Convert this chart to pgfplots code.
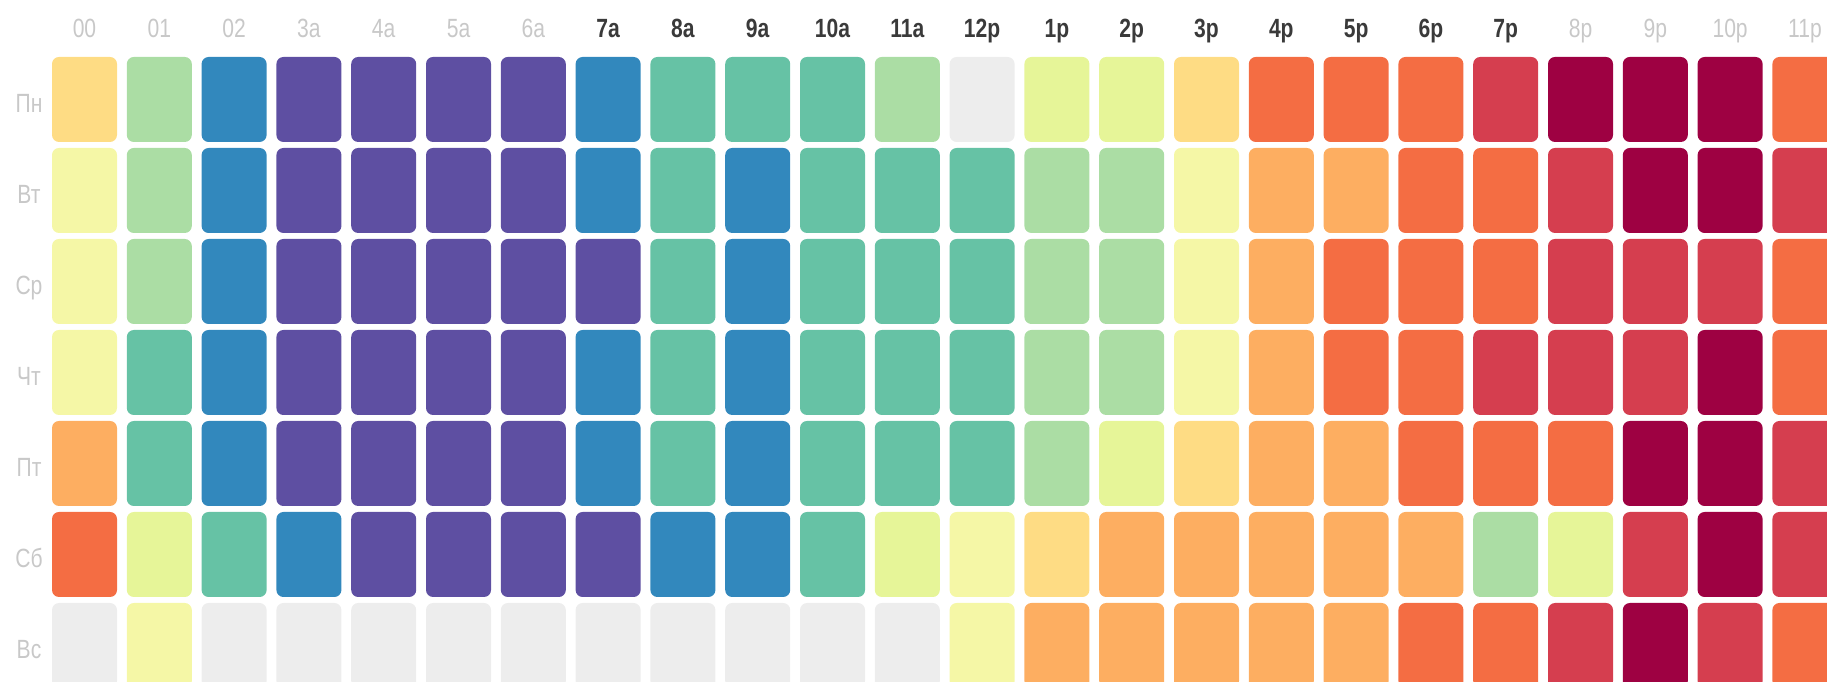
\documentclass[border=0pt]{standalone}
\usepackage{pgfplots}
\pgfplotsset{compat=1.18}
\usepackage{fontspec}
\setmainfont{Liberation Sans}[FakeStretch=0.8]
\definecolor{cA}{HTML}{9E0142}
\definecolor{cB}{HTML}{D53E4F}
\definecolor{cC}{HTML}{F46D43}
\definecolor{cD}{HTML}{FDAE61}
\definecolor{cE}{HTML}{FEDC84}
\definecolor{cF}{HTML}{F5F7A6}
\definecolor{cG}{HTML}{E6F598}
\definecolor{cH}{HTML}{ABDDA4}
\definecolor{cI}{HTML}{66C2A5}
\definecolor{cJ}{HTML}{3288BD}
\definecolor{cK}{HTML}{5E4FA2}
\definecolor{cN}{HTML}{EDEDED}
\definecolor{lgray}{HTML}{C8C8C8}
\definecolor{ldark}{HTML}{3A3A3A}
\pgfdeclareplotmark{cell}{%
  \pgfpathmoveto{\pgfpoint{0cm}{-0.425cm}}%
  \pgfpathlineto{\pgfpoint{0.255cm}{-0.425cm}}%
  \pgfpatharc{270}{360}{0.07cm}%
  \pgfpathlineto{\pgfpoint{0.325cm}{0.355cm}}%
  \pgfpatharc{0}{90}{0.07cm}%
  \pgfpathlineto{\pgfpoint{-0.255cm}{0.425cm}}%
  \pgfpatharc{90}{180}{0.07cm}%
  \pgfpathlineto{\pgfpoint{-0.325cm}{-0.355cm}}%
  \pgfpatharc{180}{270}{0.07cm}%
  \pgfpathclose
  \pgfusepathqfill}
\tikzset{lbl/.style={font=\fontsize{7.5pt}{9pt}\selectfont, inner sep=0pt, anchor=base},
  hg/.style={lbl, text=lgray},
  hd/.style={lbl, text=ldark, font=\fontsize{7.5pt}{9pt}\selectfont\bfseries}}
\begin{document}
\begin{tikzpicture}
\path[use as bounding box] (0,0) rectangle (18.27cm,6.82cm);
\begin{axis}[at={(0,0)}, anchor=south west, scale only axis,
  width=18.27cm, height=6.82cm,
  xmin=-1.1297, xmax=23.2955, ymin=-1.0934, ymax=6.4011, y dir=reverse,
  hide axis, clip=false]
\addplot[scatter, only marks, point meta=explicit symbolic,
  scatter/classes={A={mark=cell,cA}, B={mark=cell,cB}, C={mark=cell,cC},
    D={mark=cell,cD}, E={mark=cell,cE}, F={mark=cell,cF}, G={mark=cell,cG},
    H={mark=cell,cH}, I={mark=cell,cI}, J={mark=cell,cJ}, K={mark=cell,cK},
    N={mark=cell,cN}}]
table[row sep=\\, meta=c] {
x y c\\
0 0 E\\1 0 H\\2 0 J\\3 0 K\\4 0 K\\5 0 K\\6 0 K\\7 0 J\\8 0 I\\9 0 I\\10 0 I\\11 0 H\\12 0 N\\13 0 G\\14 0 G\\15 0 E\\16 0 C\\17 0 C\\18 0 C\\19 0 B\\20 0 A\\21 0 A\\22 0 A\\23 0 C\\
0 1 F\\1 1 H\\2 1 J\\3 1 K\\4 1 K\\5 1 K\\6 1 K\\7 1 J\\8 1 I\\9 1 J\\10 1 I\\11 1 I\\12 1 I\\13 1 H\\14 1 H\\15 1 F\\16 1 D\\17 1 D\\18 1 C\\19 1 C\\20 1 B\\21 1 A\\22 1 A\\23 1 B\\
0 2 F\\1 2 H\\2 2 J\\3 2 K\\4 2 K\\5 2 K\\6 2 K\\7 2 K\\8 2 I\\9 2 J\\10 2 I\\11 2 I\\12 2 I\\13 2 H\\14 2 H\\15 2 F\\16 2 D\\17 2 C\\18 2 C\\19 2 C\\20 2 B\\21 2 B\\22 2 B\\23 2 C\\
0 3 F\\1 3 I\\2 3 J\\3 3 K\\4 3 K\\5 3 K\\6 3 K\\7 3 J\\8 3 I\\9 3 J\\10 3 I\\11 3 I\\12 3 I\\13 3 H\\14 3 H\\15 3 F\\16 3 D\\17 3 C\\18 3 C\\19 3 B\\20 3 B\\21 3 B\\22 3 A\\23 3 C\\
0 4 D\\1 4 I\\2 4 J\\3 4 K\\4 4 K\\5 4 K\\6 4 K\\7 4 J\\8 4 I\\9 4 J\\10 4 I\\11 4 I\\12 4 I\\13 4 H\\14 4 G\\15 4 E\\16 4 D\\17 4 D\\18 4 C\\19 4 C\\20 4 C\\21 4 A\\22 4 A\\23 4 B\\
0 5 C\\1 5 G\\2 5 I\\3 5 J\\4 5 K\\5 5 K\\6 5 K\\7 5 K\\8 5 J\\9 5 J\\10 5 I\\11 5 G\\12 5 F\\13 5 E\\14 5 D\\15 5 D\\16 5 D\\17 5 D\\18 5 D\\19 5 H\\20 5 G\\21 5 B\\22 5 A\\23 5 B\\
0 6 N\\1 6 F\\2 6 N\\3 6 N\\4 6 N\\5 6 N\\6 6 N\\7 6 N\\8 6 N\\9 6 N\\10 6 N\\11 6 N\\12 6 F\\13 6 D\\14 6 D\\15 6 D\\16 6 D\\17 6 D\\18 6 C\\19 6 C\\20 6 B\\21 6 A\\22 6 B\\23 6 C\\
};
% column headers
\node[hg] at (axis cs:0,-0.676) {00};
\node[hg] at (axis cs:1,-0.676) {01};
\node[hg] at (axis cs:2,-0.676) {02};
\node[hg] at (axis cs:3,-0.676) {3a};
\node[hg] at (axis cs:4,-0.676) {4a};
\node[hg] at (axis cs:5,-0.676) {5a};
\node[hg] at (axis cs:6,-0.676) {6a};
\node[hd] at (axis cs:7,-0.676) {7a};
\node[hd] at (axis cs:8,-0.676) {8a};
\node[hd] at (axis cs:9,-0.676) {9a};
\node[hd] at (axis cs:10,-0.676) {10a};
\node[hd] at (axis cs:11,-0.676) {11a};
\node[hd] at (axis cs:12,-0.676) {12p};
\node[hd] at (axis cs:13,-0.676) {1p};
\node[hd] at (axis cs:14,-0.676) {2p};
\node[hd] at (axis cs:15,-0.676) {3p};
\node[hd] at (axis cs:16,-0.676) {4p};
\node[hd] at (axis cs:17,-0.676) {5p};
\node[hd] at (axis cs:18,-0.676) {6p};
\node[hd] at (axis cs:19,-0.676) {7p};
\node[hg] at (axis cs:20,-0.676) {8p};
\node[hg] at (axis cs:21,-0.676) {9p};
\node[hg] at (axis cs:22,-0.676) {10p};
\node[hg] at (axis cs:23,-0.676) {11p};
% row labels
\node[hg] at (axis cs:-0.742,0.143) {Пн};
\node[hg] at (axis cs:-0.742,1.143) {Вт};
\node[hg] at (axis cs:-0.742,2.143) {Ср};
\node[hg] at (axis cs:-0.742,3.143) {Чт};
\node[hg] at (axis cs:-0.742,4.143) {Пт};
\node[hg] at (axis cs:-0.742,5.143) {Сб};
\node[hg] at (axis cs:-0.742,6.143) {Вс};
\end{axis}
\end{tikzpicture}
\end{document}
